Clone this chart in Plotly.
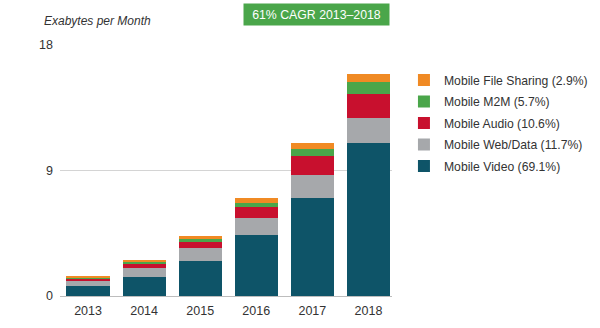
import plotly.graph_objects as go

years = ["2013", "2014", "2015", "2016", "2017", "2018"]
video = [0.72, 1.39, 2.54, 4.34, 7.03, 10.94]
web_data = [0.36, 0.60, 0.89, 1.25, 1.65, 1.79]
audio = [0.19, 0.36, 0.45, 0.76, 1.35, 1.73]
m2m = [0.07, 0.12, 0.20, 0.32, 0.48, 0.91]
file_sharing = [0.10, 0.12, 0.22, 0.36, 0.43, 0.53]

series = [
    ("Mobile Video (69.1%)", video, "#0e5468"),
    ("Mobile Web/Data (11.7%)", web_data, "#a6a8ab"),
    ("Mobile Audio (10.6%)", audio, "#c8102e"),
    ("Mobile M2M (5.7%)", m2m, "#4aa64a"),
    ("Mobile File Sharing (2.9%)", file_sharing, "#f08a24"),
]

FONT = "Liberation Sans, Arial, sans-serif"

fig = go.Figure()
for i, (name, vals, color) in enumerate(series):
    fig.add_trace(go.Bar(x=list(range(len(years))), y=vals, name=name,
                         legendgroup=f"g{i}", legendrank=1000 - i,
                         marker=dict(color=color, line=dict(width=0)),
                         width=0.77))

fig.update_layout(
    barmode="stack",
    width=600, height=328,
    margin=dict(l=60, r=208, t=45, b=32, autoexpand=False),
    paper_bgcolor="white", plot_bgcolor="white",
    font=dict(family=FONT, size=12, color="#333333"),
    showlegend=True,
    legend=dict(traceorder="grouped", x=1.036, xanchor="left", y=0.918, yanchor="top",
                font=dict(size=12.2, color="#333333"), itemwidth=30, tracegroupgap=2.5,
                bgcolor="rgba(0,0,0,0)"),
    xaxis=dict(tickmode="array", tickvals=list(range(len(years))), ticktext=years,
               range=[-0.5, 5.42], showgrid=False, zeroline=False, showline=False,
               ticks="", ticklabelstandoff=5, tickfont=dict(size=12.5, color="#333333")),
    yaxis=dict(range=[0, 18], tickvals=[0, 9, 18], showgrid=True, gridcolor="#d4d4d4",
               gridwidth=1, zeroline=True, zerolinecolor="#bdbdbd", zerolinewidth=1,
               showline=False, ticks="", ticklabelstandoff=6,
               tickfont=dict(size=12.5, color="#333333")),
    annotations=[
        dict(text="<i>Exabytes per Month</i>", xref="paper", yref="paper",
             x=-0.054, y=1.096, xanchor="left", yanchor="middle", showarrow=False,
             font=dict(size=12, color="#333333", family=FONT)),
        dict(text="61% CAGR 2013–2018", xref="paper", yref="paper",
             x=0.774, y=1.12, xanchor="center", yanchor="middle", showarrow=False,
             bgcolor="#4aa64a", width=143, height=19,
             font=dict(size=12.3, color="white", family=FONT)),
    ],
)

fig.write_html("out.html")
